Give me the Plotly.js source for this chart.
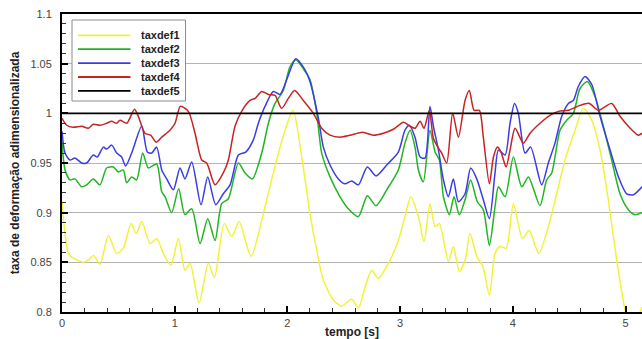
<!DOCTYPE html>
<html>
<head>
<meta charset="utf-8">
<script src="https://cdn.plot.ly/plotly-3.0.1.min.js"></script>
<style>html,body{margin:0;padding:0;background:#fff}#chart{width:642px;height:339px}</style>
</head>
<body>
<div id="chart"></div>
<script>
// ---- data (time in s, dimensionless strain rate) ----
const seriesNames = ["taxdef1", "taxdef2", "taxdef3", "taxdef4", "taxdef5"];

const t1 = [0.000,0.025,0.056,0.09,0.14,0.19,0.24,0.28,0.337,0.411,0.485,0.544,0.612,0.657,0.707,0.781,0.840,0.899,0.967,1.032,1.091,1.136,1.216,1.298,1.352,1.44,1.506,1.571,1.677,1.786,1.89,1.979,2.05,2.127,2.2,2.26,2.319,2.408,2.482,2.57,2.63,2.689,2.748,2.807,2.896,2.984,3.043,3.095,3.162,3.212,3.265,3.31,3.348,3.428,3.472,3.525,3.576,3.62,3.68,3.733,3.792,3.842,3.886,3.94,4.005,4.085,4.145,4.23,4.32,4.389,4.463,4.552,4.626,4.70,4.774,4.847,4.922,4.996,5.04,5.09,5.146];
const y1 = [0.912,0.880,0.859,0.855,0.852,0.850,0.853,0.857,0.848,0.877,0.859,0.864,0.889,0.879,0.891,0.869,0.874,0.859,0.847,0.874,0.842,0.849,0.809,0.849,0.835,0.889,0.876,0.891,0.856,0.899,0.947,0.983,1.003,0.956,0.899,0.862,0.832,0.812,0.806,0.813,0.804,0.825,0.842,0.834,0.849,0.872,0.896,0.916,0.896,0.871,0.909,0.886,0.889,0.851,0.866,0.841,0.852,0.879,0.856,0.846,0.817,0.859,0.866,0.864,0.909,0.874,0.882,0.859,0.888,0.919,0.953,0.983,1.005,0.993,0.963,0.913,0.852,0.802,0.785,0.790,0.805];

const t2 = [0.000,0.027,0.071,0.115,0.175,0.219,0.278,0.337,0.396,0.455,0.50,0.544,0.574,0.618,0.662,0.716,0.766,0.840,0.885,0.915,0.973,1.035,1.09,1.151,1.225,1.293,1.358,1.417,1.476,1.565,1.624,1.689,1.772,1.831,1.89,1.964,2.023,2.075,2.14,2.2,2.26,2.304,2.378,2.467,2.54,2.63,2.709,2.786,2.881,2.984,3.043,3.088,3.132,3.162,3.206,3.265,3.31,3.348,3.384,3.437,3.478,3.525,3.576,3.626,3.685,3.738,3.792,3.842,3.872,3.931,4.005,4.079,4.138,4.241,4.30,4.345,4.419,4.478,4.537,4.596,4.661,4.729,4.803,4.877,4.951,5.025,5.084,5.146];
const y2 = [0.972,0.943,0.933,0.934,0.926,0.928,0.934,0.928,0.945,0.946,0.941,0.943,0.930,0.936,0.933,0.960,0.945,0.949,0.921,0.916,0.900,0.924,0.898,0.904,0.869,0.894,0.872,0.909,0.914,0.950,0.940,0.934,0.960,0.990,1.010,1.023,1.047,1.054,1.045,1.034,1.000,0.960,0.936,0.916,0.904,0.896,0.917,0.907,0.923,0.943,0.970,0.983,0.966,0.943,0.931,0.983,0.961,0.953,0.916,0.898,0.916,0.898,0.913,0.933,0.911,0.903,0.867,0.906,0.926,0.916,0.956,0.926,0.936,0.907,0.933,0.940,0.983,0.993,1.000,1.025,1.032,1.017,0.987,0.953,0.919,0.903,0.898,0.900];

const t3 = [0.000,0.027,0.071,0.115,0.175,0.219,0.278,0.313,0.367,0.396,0.441,0.485,0.529,0.565,0.618,0.707,0.757,0.796,0.840,0.885,0.929,0.988,1.047,1.091,1.151,1.233,1.293,1.364,1.431,1.491,1.565,1.630,1.697,1.742,1.801,1.875,1.934,1.994,2.075,2.15,2.2,2.275,2.319,2.378,2.452,2.511,2.57,2.63,2.709,2.786,2.881,2.984,3.043,3.082,3.132,3.177,3.221,3.265,3.295,3.34,3.384,3.428,3.472,3.517,3.576,3.626,3.68,3.738,3.792,3.842,3.872,3.931,3.975,4.015,4.049,4.108,4.158,4.256,4.315,4.374,4.434,4.493,4.537,4.581,4.641,4.70,4.774,4.863,4.937,5.01,5.07,5.146];
const y3 = [0.982,0.960,0.953,0.955,0.950,0.950,0.958,0.956,0.966,0.964,0.968,0.960,0.956,0.947,0.960,0.987,0.961,0.960,0.966,0.943,0.934,0.923,0.945,0.934,0.951,0.908,0.936,0.908,0.919,0.928,0.958,0.961,0.973,0.990,1.007,1.022,1.019,1.034,1.055,1.045,1.032,0.995,0.966,0.948,0.934,0.929,0.932,0.928,0.946,0.937,0.948,0.961,0.983,0.988,0.976,0.956,0.955,1.007,0.987,0.963,0.933,0.916,0.934,0.911,0.919,0.945,0.934,0.913,0.894,0.940,0.963,0.958,0.990,1.010,1.000,0.960,0.966,0.928,0.950,0.970,0.997,1.010,1.013,1.027,1.037,1.029,0.997,0.963,0.936,0.919,0.918,0.926];

const t4 = [0.000,0.042,0.10,0.175,0.234,0.278,0.337,0.396,0.441,0.485,0.515,0.574,0.643,0.677,0.736,0.787,0.835,0.885,0.958,1.003,1.05,1.121,1.18,1.24,1.284,1.358,1.431,1.476,1.535,1.594,1.668,1.713,1.772,1.831,1.89,1.949,2.008,2.064,2.141,2.23,2.304,2.378,2.467,2.555,2.668,2.762,2.851,2.94,3.03,3.088,3.132,3.177,3.212,3.259,3.295,3.34,3.369,3.413,3.466,3.517,3.576,3.614,3.656,3.703,3.738,3.792,3.828,3.863,3.895,3.94,3.975,4.02,4.093,4.153,4.241,4.33,4.404,4.493,4.596,4.679,4.759,4.877,4.951,5.025,5.114,5.146];
const y4 = [0.995,0.988,0.986,0.987,0.985,0.989,0.988,0.990,0.992,0.990,0.993,0.990,1.004,0.997,0.980,0.978,0.971,0.976,0.983,0.990,1.007,1.002,0.980,0.953,0.950,0.928,0.940,0.953,0.987,1.002,1.013,1.015,1.022,1.019,1.018,1.005,1.015,1.023,1.013,1.000,0.985,0.978,0.976,0.978,0.981,0.978,0.980,0.984,0.991,0.987,0.985,0.992,0.985,1.003,0.975,0.965,0.960,0.950,1.000,0.976,1.013,1.023,1.003,1.003,0.976,0.929,0.956,0.966,0.961,0.946,0.963,0.985,0.970,0.980,0.990,0.998,1.002,1.003,1.008,1.010,1.003,1.010,0.997,0.987,0.978,0.980];

const t5 = [0.000, 5.146];
const y5 = [1.000, 1.000];

const xTickVals = [0, 1, 2, 3, 4, 5];
const yTickVals = [0.8, 0.85, 0.9, 0.95, 1, 1.05, 1.1];
const yTickText = ["0.8", "0.85", "0.9", "0.95", "1", "1.05", "1.1"];

// ---- styling ----
const colors = ["#f2f23a", "#22b522", "#3c3ce6", "#c82222", "#000000"];
const xs = [t1, t2, t3, t4, t5];
const ys = [y1, y2, y3, y4, y5];

const traces = seriesNames.map((name, i) => ({
  type: "scatter",
  mode: "lines",
  name: name,
  x: xs[i],
  y: ys[i],
  line: {color: colors[i], width: i === 4 ? 1.6 : 1.5, shape: i === 4 ? "linear" : "spline", smoothing: 0.7},
  showlegend: false,
  hoverinfo: "x+y+name"
}));

const FONT = "Liberation Sans, Arial, Helvetica, sans-serif";

// compact boxed legend (paper coordinates inside the plot area)
const PLOT_H = 298, PLOT_W = 580;
const toPx = (px) => px / PLOT_W;          // horizontal px offset from plot left -> paper
const toPy = (py) => 1 - py / PLOT_H;      // vertical px offset from plot top -> paper
const legendShapes = [{
  type: "rect", xref: "paper", yref: "paper", layer: "above",
  x0: toPx(10), x1: toPx(123.5), y0: toPy(87), y1: toPy(6),
  fillcolor: "#ffffff", line: {color: "#8c8c8c", width: 1}
}];
const legendAnns = [];
seriesNames.forEach((name, i) => {
  const yy = toPy(21.3 + 13.9 * i);
  legendShapes.push({
    type: "line", xref: "paper", yref: "paper", layer: "above",
    x0: toPx(16), x1: toPx(68.5), y0: yy, y1: yy,
    line: {color: colors[i], width: 1.8}
  });
  legendAnns.push({
    xref: "paper", yref: "paper", x: toPx(76.5), y: yy,
    xanchor: "left", yanchor: "middle", showarrow: false,
    text: name,
    font: {family: FONT, size: 11, color: "#222", weight: "bold"}
  });
});

const layout = {
  width: 642,
  height: 339,
  margin: {l: 62, r: 0, t: 14, b: 27, pad: 0},
  paper_bgcolor: "#ffffff",
  plot_bgcolor: "#ffffff",
  font: {family: FONT, size: 11, color: "#444"},
  showlegend: false,
  shapes: legendShapes,
  annotations: legendAnns,
  xaxis: {
    range: [0, 5.146],
    tickvals: xTickVals,
    ticks: "inside", ticklen: 6, tickwidth: 2, tickcolor: "#000",
    minor: {dtick: 0.2, tick0: 0, ticks: "inside", ticklen: 4, tickwidth: 1, tickcolor: "#333", showgrid: false},
    showline: true, linecolor: "#000", linewidth: 2, mirror: true,
    showgrid: false, zeroline: false,
    tickfont: {family: FONT, size: 11, color: "#444"},
    automargin: false,
    title: {text: "tempo [s]", font: {family: FONT, size: 12, color: "#222", weight: "bold"}, standoff: 0}
  },
  yaxis: {
    range: [0.8, 1.1],
    tickvals: yTickVals, ticktext: yTickText,
    ticks: "inside", ticklen: 6, tickwidth: 2, tickcolor: "#000",
    minor: {dtick: 0.01, tick0: 0.8, ticks: "inside", ticklen: 4, tickwidth: 1, tickcolor: "#333", showgrid: false},
    showline: true, linecolor: "#000", linewidth: 2, mirror: false,
    showgrid: true, gridcolor: "#b4b4b4", gridwidth: 1, zeroline: false,
    tickfont: {family: FONT, size: 11, color: "#444"},
    ticklabelstandoff: 6,
    automargin: false,
    title: {text: "taxa de deformação adimensionalizada", font: {family: FONT, size: 12, color: "#222", weight: "bold"}, standoff: 8}
  }
};

Plotly.newPlot("chart", traces, layout, {displayModeBar: false, staticPlot: true});
</script>
</body>
</html>
